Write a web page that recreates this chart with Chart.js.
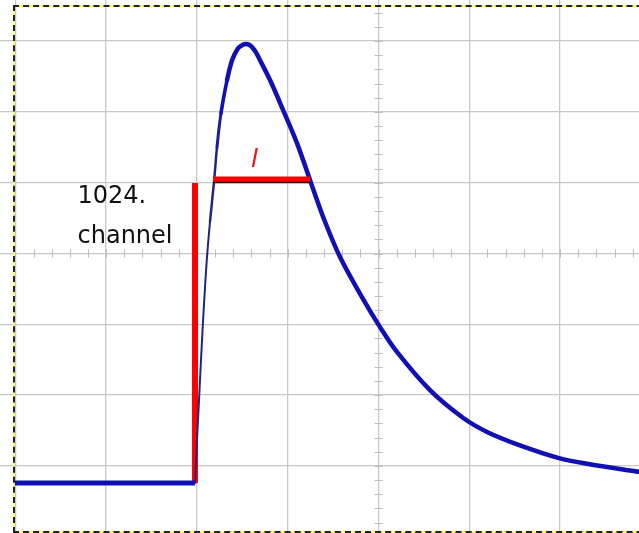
<!DOCTYPE html>
<html>
<head>
<meta charset="utf-8">
<script src="https://cdn.jsdelivr.net/npm/chart.js@4"></script>
<style>
  html, body { margin: 0; padding: 0; background: #fff; overflow: hidden; }
  #wrap { position: relative; width: 639px; height: 533px; }
  #scope { position: absolute; left: 0; top: 0; }
  .frame { position: absolute; left: 13px; top: 5px; width: 700px; height: 528px; box-sizing: border-box; pointer-events: none; }
  #frame-y { border: 2px solid #ffff5c; }
  #frame-d { border: 2px dashed #222; }
</style>
</head>
<body>
<div id="wrap">
  <canvas id="scope" width="639" height="533"></canvas>
  <div class="frame" id="frame-y"></div>
  <div class="frame" id="frame-d"></div>
</div>
<script>
// Scope trace, in screen divisions (0,0 = centre of the screen)
// flat part before the trigger
const baseTime = [-4.01, -3.0, -2.021];
const baseLevel = [-3.24, -3.24, -3.24];
// the pulse itself
const pulseTime = [-2.021, -1.999, -1.977, -1.955, -1.933, -1.911, -1.889, -1.856, -1.812, -1.779,
  -1.735, -1.668, -1.613, -1.547, -1.50, -1.459, -1.42, -1.382, -1.345, -1.305,
  -1.195, -1.052, -0.898, -0.755, -0.611, -0.424, -0.171, 0.017, 0.203, 0.567,
  0.930, 1.195, 1.558, 1.988, 2.296, 2.9];
const pulseLevel = [-3.24, -2.63, -2.07, -1.50, -0.96, -0.48, -0.05, 0.45, 1.01, 1.50,
  1.98, 2.45, 2.73, 2.90, 2.945, 2.96, 2.945, 2.90, 2.83, 2.73,
  2.45, 2.03, 1.56, 1.04, 0.52, -0.05, -0.64, -1.04, -1.39, -1.93,
  -2.32, -2.52, -2.71, -2.89, -2.97, -3.09];

// red markers: trigger edge and width "l"
const edgeX = [-2.021, -2.021];
const edgeY = [0.996, -3.242];
const widthX = [-1.823, -0.754];
const widthY = [1.045, 1.045];

// grid divisions
const xGrid = [-4, -3, -2, -1, 0, 1, 2];
const yGrid = [-3, -2, -1, 0, 1, 2, 3];

// text labels
const channelLines = ['1024.', 'channel'];
const channelX = -3.315;
const channelY = [0.713, 0.148];
const widthLabel = 'l';
const widthLabelX = -1.404;
const widthLabelY = 1.222;

const pts = (xs, ys) => xs.map((x, i) => ({ x: x, y: ys[i] }));

// thin on the fast rising edge, getting thicker (noisy) as it slows down
function traceWidth(c) {
  const x1 = c.p1.parsed.x;
  if (x1 <= -1.85) return 2;
  if (x1 <= -1.77) return 2.5;
  if (x1 <= -1.70) return 3;
  if (x1 <= -1.62) return 3.6;
  return 4.5;
}
function traceColor(c) {
  const w = traceWidth(c);
  if (w < 2.6) return '#262678';
  if (w < 3.5) return '#1c1c96';
  return '#1010b4';
}

const crossTicks = {
  id: 'crossTicks',
  beforeDatasetsDraw(chart) {
    const { ctx, scales: { x, y } } = chart;
    const cx = x.getPixelForValue(0);
    const cy = y.getPixelForValue(0);
    ctx.save();
    ctx.strokeStyle = '#bdbdbd';
    ctx.lineWidth = 1;
    ctx.beginPath();
    for (let v = -4.2; v <= 3; v += 0.2) {
      const px = Math.round(x.getPixelForValue(v)) + 0.5;
      ctx.moveTo(px, cy - 4); ctx.lineTo(px, cy + 4);
    }
    for (let v = -4; v <= 3.6; v += 0.2) {
      const py = Math.round(y.getPixelForValue(v)) + 0.5;
      ctx.moveTo(cx - 4, py); ctx.lineTo(cx + 4, py);
    }
    ctx.stroke();
    ctx.restore();
  },
  afterDatasetsDraw(chart) {
    const { ctx, scales: { x, y } } = chart;
    ctx.save();
    ctx.textAlign = 'left';
    ctx.textBaseline = 'alphabetic';
    ctx.fillStyle = '#111';
    ctx.font = '24px "DejaVu Sans"';
    channelLines.forEach((t, i) => ctx.fillText(t, x.getPixelForValue(channelX), y.getPixelForValue(channelY[i])));
    ctx.fillStyle = '#e8101a';
    ctx.font = 'oblique 25px "DejaVu Sans"';
    ctx.fillText(widthLabel, x.getPixelForValue(widthLabelX), y.getPixelForValue(widthLabelY));
    ctx.restore();
  }
};

new Chart(document.getElementById('scope'), {
  type: 'line',
  data: {
    datasets: [
      {
        data: pts(widthX, widthY.map(v => v - 0.042)),
        borderColor: '#3a0a0a',
        borderWidth: 1.5,
        pointRadius: 0
      },
      {
        data: pts(widthX, widthY),
        borderColor: '#ff0000',
        borderWidth: 6,
        pointRadius: 0
      },
      {
        data: pts(baseTime, baseLevel),
        borderColor: '#1010b4',
        borderWidth: 5,
        pointRadius: 0
      },
      {
        data: pts(pulseTime, pulseLevel),
        borderColor: '#1010b4',
        borderWidth: 4.5,
        borderCapStyle: 'round',
        borderJoinStyle: 'round',
        pointRadius: 0,
        tension: 0.35,
        segment: { borderWidth: traceWidth, borderColor: traceColor }
      },
      {
        data: pts(edgeX, edgeY),
        borderColor: '#ff0000',
        borderWidth: 6,
        pointRadius: 0
      }
    ]
  },
  options: {
    responsive: false,
    animation: false,
    layout: { padding: 0 },
    plugins: { legend: { display: false }, tooltip: { enabled: false } },
    scales: {
      x: {
        type: 'linear', min: -4.169, max: 2.869,
        afterBuildTicks: s => { s.ticks = xGrid.map(v => ({ value: v })); },
        ticks: { display: false },
        border: { display: false },
        grid: { color: '#c8c8c8', lineWidth: 1.3, drawTicks: false }
      },
      y: {
        type: 'linear', min: -3.948, max: 3.581,
        afterBuildTicks: s => { s.ticks = yGrid.map(v => ({ value: v })); },
        ticks: { display: false },
        border: { display: false },
        grid: { color: '#c8c8c8', lineWidth: 1.3, drawTicks: false }
      }
    }
  },
  plugins: [crossTicks]
});
</script>
</body>
</html>
